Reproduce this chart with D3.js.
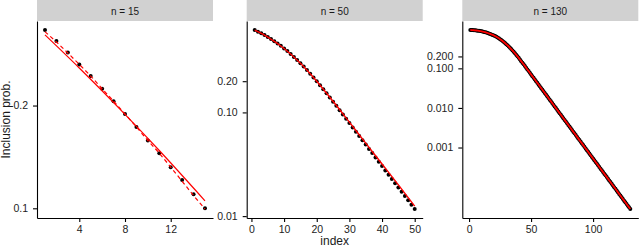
<!DOCTYPE html>
<html>
<head>
<meta charset="utf-8">
<script src="https://cdn.jsdelivr.net/npm/d3@7"></script>
<style>
  body { margin: 0; background: #fff; }
  text { font-family: "Liberation Sans", Arial, Helvetica, sans-serif; }
</style>
</head>
<body>
<svg id="chart"></svg>
<script>
// facet strip titles
const facetTitles = ["n = 15", "n = 50", "n = 130"];

// ---- n = 15 ----
const prob15 = [0.333, 0.309, 0.286, 0.264, 0.244, 0.224, 0.206, 0.189, 0.173, 0.158,
                0.145, 0.132, 0.121, 0.110, 0.100];
const solidIdx15 = [1, 4, 8, 11, 15];
const solid15 = [0.322, 0.2576, 0.1885, 0.1477, 0.1052];
const dash15 = [0.329, 0.307, 0.285, 0.264, 0.244, 0.224, 0.206, 0.189, 0.173, 0.158,
                0.145, 0.132, 0.120, 0.109, 0.0995];
const xTicks15 = [4, 8, 12];
const yTicks15 = [0.1, 0.2];
const yLabels15 = ["0.1", "0.2"];

// ---- n = 50 ----
const prob50 = [0.624, 0.601, 0.579, 0.557, 0.533, 0.511, 0.486, 0.462, 0.439, 0.414,
                0.390, 0.366, 0.343, 0.320, 0.298, 0.277, 0.256, 0.236, 0.217, 0.200,
                0.183, 0.167, 0.153, 0.139, 0.127, 0.116, 0.105, 0.0955, 0.0868, 0.0789,
                0.0717, 0.0652, 0.0593, 0.0539, 0.0490, 0.0445, 0.0405, 0.0368, 0.0334, 0.0304,
                0.0276, 0.0251, 0.0228, 0.0208, 0.0189, 0.0172, 0.0156, 0.0142, 0.0129, 0.0117];
const redIdx50 = [1, 5, 10, 15, 20, 25, 30, 35, 40, 45, 50];
const red50 = [0.620, 0.533, 0.414, 0.298, 0.200, 0.128, 0.0805, 0.0505, 0.0318, 0.0200, 0.0125];
const xTicks50 = [0, 10, 20, 30, 40, 50];
const yTicks50 = [0.01, 0.1, 0.2];
const yLabels50 = ["0.01", "0.10", "0.20"];

// ---- n = 130 ----
const prob130 = [0.933, 0.929, 0.925, 0.918, 0.912, 0.904, 0.895, 0.885, 0.873, 0.861,
                 0.847, 0.832, 0.817, 0.800, 0.782, 0.762, 0.741, 0.721, 0.700, 0.678,
                 0.653, 0.628, 0.601, 0.574, 0.546, 0.518, 0.490, 0.462, 0.435, 0.407,
                 0.381, 0.356, 0.331, 0.307, 0.284, 0.262, 0.240, 0.220, 0.201, 0.184,
                 0.167, 0.152, 0.139, 0.126, 0.114, 0.104, 0.0940, 0.0853, 0.0773, 0.0701,
                 0.0635, 0.0577, 0.0523, 0.0474, 0.0430, 0.0390, 0.0354, 0.0321, 0.0291, 0.0264,
                 0.0239, 0.0217, 0.0197, 0.0178, 0.0162, 0.0147, 0.0133, 0.0121, 0.0109, 0.00991,
                 0.00899, 0.00815, 0.00739, 0.00670, 0.00607, 0.00551, 0.00499, 0.00453, 0.00411, 0.00372,
                 0.00338, 0.00306, 0.00278, 0.00252, 0.00228, 0.00207, 0.00188, 0.00170, 0.00154, 0.00140,
                 0.00127, 0.00115, 0.00104, 0.000946, 0.000858, 0.000778, 0.000705, 0.000640, 0.000580, 0.000526,
                 0.000477, 0.000432, 0.000392, 0.000355, 0.000322, 0.000292, 0.000265, 0.000240, 0.000218, 0.000198,
                 0.000179, 0.000163, 0.000147, 0.000134, 0.000121, 0.000110, 0.0000997, 0.0000904, 0.0000820, 0.0000743,
                 0.0000674, 0.0000611, 0.0000554, 0.0000502, 0.0000455, 0.0000413, 0.0000374, 0.0000339, 0.0000308, 0.0000279];
const fit130 = prob130; // fitted curve sits right on the points
const xTicks130 = [0, 50, 100];
const yTicks130 = [0.001, 0.01, 0.1, 0.2];
const yLabels130 = ["0.001", "0.010", "0.100", "0.200"];

var w = 640;
var h = 249;
const stripH = 21;
const panelTop = 21, panelBottom = 218, panelW = 176;
const panelLeft = [37, 246.7, 462.3];

let svg = d3.select("#chart")
  .attr("width", w)
  .attr("height", h);

function idx(arr) { return arr.map((d, i) => i + 1); }

function drawPanel(k, probs, lines, xTicks, yTicks, yLabels) {
  const left = panelLeft[k];
  const n = probs.length;
  const g = svg.append("g");

  // all values shown in this facet, for the (free) log y range
  let allVals = probs.slice();
  lines.forEach(l => { allVals = allVals.concat(l.vals); });
  let lo = Math.log10(d3.min(allVals)), hi = Math.log10(d3.max(allVals));
  let pad = (hi - lo) * 0.05;

  let xScale = d3.scaleLinear()
    .domain([1 - 0.05 * (n - 1), n + 0.05 * (n - 1)])
    .range([left, left + panelW]);
  let yScale = d3.scaleLog()
    .domain([Math.pow(10, lo - pad), Math.pow(10, hi + pad)])
    .range([panelBottom, panelTop]);

  // strip
  g.append("rect")
    .attr("x", left).attr("y", 0)
    .attr("width", panelW).attr("height", stripH)
    .attr("fill", "#d1d1d1");
  g.append("text")
    .attr("x", left + panelW / 2).attr("y", 14.5)
    .attr("text-anchor", "middle")
    .attr("font-size", 10)
    .attr("fill", "#1a1a1a")
    .text(facetTitles[k]);

  // axes
  let yAxisG = g.append("g")
    .attr("transform", `translate(${left},0)`)
    .call(d3.axisLeft(yScale).tickValues(yTicks)
      .tickFormat((d, i) => yLabels[i]).tickSize(4).tickSizeOuter(0).tickPadding(5));
  let xAxisG = g.append("g")
    .attr("transform", `translate(0,${panelBottom})`)
    .call(d3.axisBottom(xScale).tickValues(xTicks)
      .tickFormat(d3.format("d")).tickSize(4).tickSizeOuter(0).tickPadding(4));
  [yAxisG, xAxisG].forEach(a => {
    a.select(".domain").attr("stroke", "#000").attr("stroke-width", 1.1);
    a.selectAll(".tick line").attr("stroke", "#000").attr("stroke-width", 1.1);
    a.selectAll(".tick text").attr("font-size", 10.5).attr("fill", "#222")
      .attr("font-family", "'Liberation Sans', Arial, sans-serif");
  });

  // points
  const pIdx = idx(probs);
  g.append("g").selectAll("circle")
    .data(probs)
    .enter()
    .append("circle")
    .attr("cx", (d, i) => xScale(pIdx[i]))
    .attr("cy", d => yScale(d))
    .attr("r", 2)
    .attr("fill", "#000");

  // red model lines
  lines.forEach(l => {
    let line = d3.line()
      .x((d, i) => xScale(l.idx[i]))
      .y(d => yScale(d))
      .curve(d3.curveMonotoneX);
    g.append("path")
      .datum(l.vals)
      .attr("d", line)
      .attr("fill", "none")
      .attr("stroke", "#ff0000")
      .attr("stroke-width", l.width)
      .attr("stroke-dasharray", l.dash ? "4,3" : null);
  });
}

drawPanel(0, prob15, [
  { idx: solidIdx15, vals: solid15, dash: false, width: 1.2 },
  { idx: idx(dash15), vals: dash15, dash: true, width: 1.2 }
], xTicks15, yTicks15, yLabels15);

drawPanel(1, prob50, [
  { idx: redIdx50, vals: red50, dash: false, width: 1.4 }
], xTicks50, yTicks50, yLabels50);

drawPanel(2, prob130, [
  { idx: idx(fit130), vals: fit130, dash: false, width: 1.8 }
], xTicks130, yTicks130, yLabels130);

// axis titles
svg.append("text")
  .attr("x", panelLeft[1] + panelW / 2)
  .attr("y", 245)
  .attr("text-anchor", "middle")
  .attr("font-size", 12)
  .attr("fill", "#1a1a1a")
  .text("index");
svg.append("text")
  .attr("transform", `translate(10,${(panelTop + panelBottom) / 2})rotate(-90)`)
  .attr("text-anchor", "middle")
  .attr("font-size", 12)
  .attr("fill", "#1a1a1a")
  .text("Inclusion prob.");
</script>
</body>
</html>
